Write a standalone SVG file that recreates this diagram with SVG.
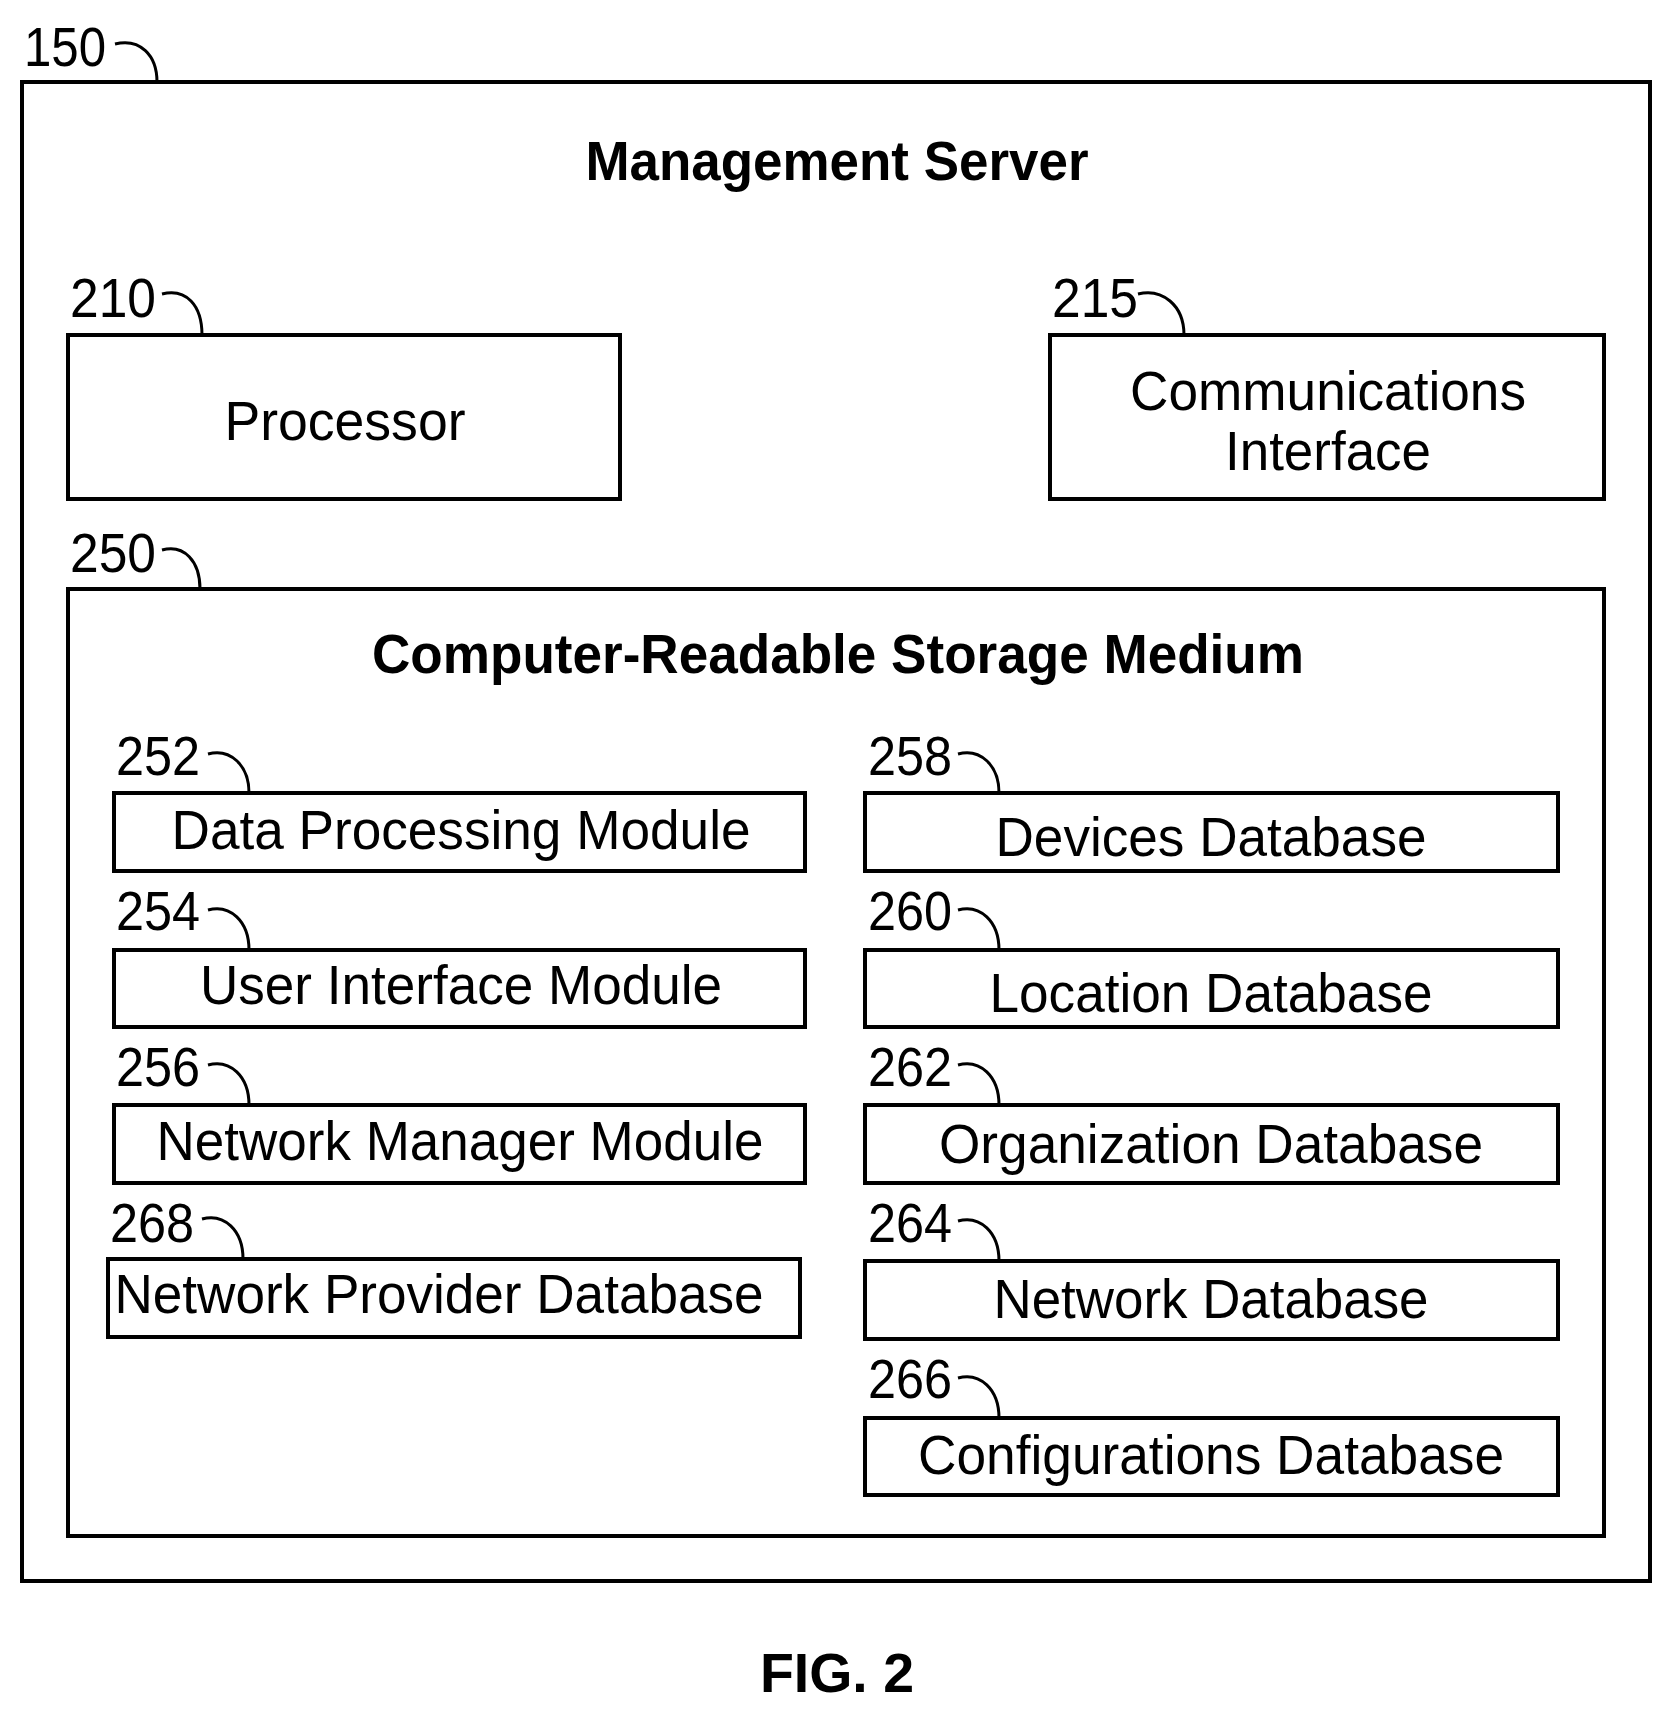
<svg xmlns="http://www.w3.org/2000/svg" width="1671" height="1715" viewBox="0 0 1671 1715">
<style>
.b{fill:#fff;stroke:#000;stroke-width:4}
.t{font-family:"Liberation Sans",Arial,sans-serif;font-size:56px;fill:#000;text-anchor:middle}
.n{font-family:"Liberation Sans",Arial,sans-serif;font-size:56px;fill:#000}
.h{font-weight:bold}
.c{fill:none;stroke:#000;stroke-width:3}
</style>
<rect width="1671" height="1715" fill="#fff"/>
<g id="n150"><rect class="b" x="22" y="82" width="1628" height="1499"/>
<text class="t h" x="837" y="180" textLength="503" lengthAdjust="spacingAndGlyphs">Management Server</text></g>
<g id="n210"><rect class="b" x="68" y="335" width="552" height="164"/><text class="t" x="345" y="440" textLength="241" lengthAdjust="spacingAndGlyphs">Processor</text></g>
<g id="n215"><rect class="b" x="1050" y="335" width="554" height="164"/><text class="t" x="1328" y="410" textLength="396" lengthAdjust="spacingAndGlyphs">Communications</text><text class="t" x="1328" y="470" textLength="206" lengthAdjust="spacingAndGlyphs">Interface</text></g>
<g id="n250"><rect class="b" x="68" y="589" width="1536" height="947"/><text class="t h" x="838" y="673" textLength="932" lengthAdjust="spacingAndGlyphs">Computer-Readable Storage Medium</text></g>
<g id="n252"><rect class="b" x="114" y="793" width="691" height="78"/><text class="t" x="461" y="849" textLength="579" lengthAdjust="spacingAndGlyphs">Data Processing Module</text></g>
<g id="n254"><rect class="b" x="114" y="950" width="691" height="77"/><text class="t" x="461" y="1004" textLength="522" lengthAdjust="spacingAndGlyphs">User Interface Module</text></g>
<g id="n256"><rect class="b" x="114" y="1105" width="691" height="78"/><text class="t" x="460" y="1160" textLength="607" lengthAdjust="spacingAndGlyphs">Network Manager Module</text></g>
<g id="n268"><rect class="b" x="108" y="1259" width="692" height="78"/><text class="t" x="439" y="1313" textLength="649" lengthAdjust="spacingAndGlyphs">Network Provider Database</text></g>
<g id="n258"><rect class="b" x="865" y="793" width="693" height="78"/><text class="t" x="1211" y="856" textLength="431" lengthAdjust="spacingAndGlyphs">Devices Database</text></g>
<g id="n260"><rect class="b" x="865" y="950" width="693" height="77"/><text class="t" x="1211" y="1012" textLength="443" lengthAdjust="spacingAndGlyphs">Location Database</text></g>
<g id="n262"><rect class="b" x="865" y="1105" width="693" height="78"/><text class="t" x="1211" y="1163" textLength="544" lengthAdjust="spacingAndGlyphs">Organization Database</text></g>
<g id="n264"><rect class="b" x="865" y="1261" width="693" height="78"/><text class="t" x="1211" y="1318" textLength="435" lengthAdjust="spacingAndGlyphs">Network Database</text></g>
<g id="n266"><rect class="b" x="865" y="1418" width="693" height="77"/><text class="t" x="1211" y="1474" textLength="586" lengthAdjust="spacingAndGlyphs">Configurations Database</text></g>
<g id="labels">
<text class="n" x="24" y="66" textLength="82" lengthAdjust="spacingAndGlyphs">150</text>
<text class="n" x="70" y="317" textLength="86" lengthAdjust="spacingAndGlyphs">210</text>
<text class="n" x="1052" y="317" textLength="86" lengthAdjust="spacingAndGlyphs">215</text>
<text class="n" x="70" y="572" textLength="86" lengthAdjust="spacingAndGlyphs">250</text>
<text class="n" x="116" y="775" textLength="84" lengthAdjust="spacingAndGlyphs">252</text>
<text class="n" x="116" y="930" textLength="84" lengthAdjust="spacingAndGlyphs">254</text>
<text class="n" x="116" y="1086" textLength="84" lengthAdjust="spacingAndGlyphs">256</text>
<text class="n" x="110" y="1242" textLength="84" lengthAdjust="spacingAndGlyphs">268</text>
<text class="n" x="868" y="775" textLength="84" lengthAdjust="spacingAndGlyphs">258</text>
<text class="n" x="868" y="930" textLength="84" lengthAdjust="spacingAndGlyphs">260</text>
<text class="n" x="868" y="1086" textLength="84" lengthAdjust="spacingAndGlyphs">262</text>
<text class="n" x="868" y="1242" textLength="84" lengthAdjust="spacingAndGlyphs">264</text>
<text class="n" x="868" y="1398" textLength="84" lengthAdjust="spacingAndGlyphs">266</text>
<text class="t h" x="837" y="1692" textLength="154" lengthAdjust="spacingAndGlyphs">FIG. 2</text>
</g>
<g id="connectors">
<path class="c" d="M115 44 C140 38 157 55 157 82"/>
<path class="c" d="M162 294 C186 288 202 305 202 335"/>
<path class="c" d="M1138 294 C1162 288 1184 305 1184 335"/>
<path class="c" d="M162 550 C184 544 200 561 200 589"/>
<path class="c" d="M208 754 C230 748 249 765 249 793"/>
<path class="c" d="M208 910 C230 904 249 921 249 950"/>
<path class="c" d="M208 1065 C230 1059 249 1076 249 1105"/>
<path class="c" d="M202 1219 C224 1213 243 1230 243 1259"/>
<path class="c" d="M958 754 C980 748 999 765 999 793"/>
<path class="c" d="M958 910 C980 904 999 921 999 950"/>
<path class="c" d="M958 1065 C980 1059 999 1076 999 1105"/>
<path class="c" d="M958 1221 C980 1215 999 1232 999 1261"/>
<path class="c" d="M958 1378 C980 1372 999 1389 999 1418"/>
</g>
</svg>
